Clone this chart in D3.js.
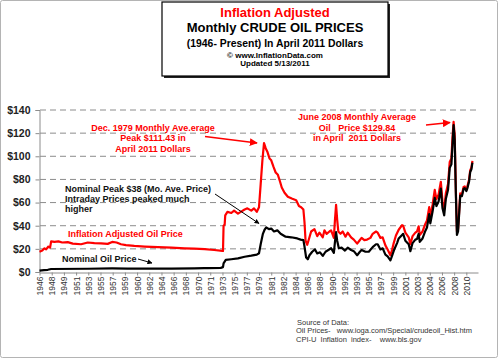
<!DOCTYPE html>
<html>
<head>
<meta charset="utf-8">
<script src="https://cdn.jsdelivr.net/npm/d3@7"></script>
<style>
  body { margin: 0; background: #fff; }
  svg { display: block; font-family: "Liberation Sans", Arial, sans-serif; }
</style>
</head>
<body>
<div id="chart"></div>
<script>
// monthly price, April 2011 dollars
const adjusted = [
  ["1946-03", 17.5], ["1946-08", 18.5], ["1946-12", 20.5], ["1947-03", 19.5], ["1947-07", 22],
  ["1947-10", 21], ["1947-12", 26.5], ["1948-06", 26], ["1949-01", 26.5], ["1949-08", 25.5],
  ["1950-06", 25.8], ["1951-03", 24.5], ["1952-06", 24], ["1953-06", 25.5], ["1954-06", 25],
  ["1955-06", 24.8], ["1956-06", 24.3], ["1957-02", 26], ["1957-10", 25.5], ["1958-06", 24],
  ["1959-03", 23.2], ["1960-06", 22.5], ["1962-01", 22], ["1964-01", 21.5], ["1966-01", 21],
  ["1968-01", 20.5], ["1969-06", 20.2], ["1971-01", 19.8], ["1972-06", 19], ["1973-09", 18.3],
  ["1973-10", 18.2], ["1973-11", 40], ["1974-01", 41], ["1974-02", 49], ["1974-06", 52],
  ["1975-01", 51], ["1975-06", 53], ["1976-01", 50.5], ["1976-06", 52], ["1977-01", 54],
  ["1977-06", 55], ["1978-01", 53], ["1978-06", 55], ["1978-11", 52], ["1979-03", 56],
  ["1979-06", 76], ["1979-09", 96], ["1979-12", 111.4], ["1980-03", 107], ["1980-06", 104],
  ["1980-10", 98], ["1981-01", 96.5], ["1981-05", 91], ["1981-09", 86], ["1982-01", 84],
  ["1982-05", 78], ["1982-08", 73], ["1983-01", 68.5], ["1983-07", 65], ["1984-02", 63.5],
  ["1984-10", 62], ["1985-03", 57], ["1985-07", 56], ["1985-11", 54], ["1986-01", 43],
  ["1986-03", 27], ["1986-06", 23.5], ["1986-10", 30], ["1987-01", 35], ["1987-07", 37],
  ["1987-12", 31], ["1988-04", 34], ["1988-10", 30], ["1989-01", 36], ["1989-05", 33],
  ["1989-10", 35], ["1990-01", 36], ["1990-06", 29.5], ["1990-08", 45], ["1990-10", 58],
  ["1990-12", 45], ["1991-02", 35], ["1991-06", 33], ["1991-10", 35], ["1992-03", 30.5],
  ["1992-07", 34], ["1993-01", 30], ["1993-06", 28], ["1993-12", 24.5], ["1994-04", 27],
  ["1994-08", 29.5], ["1995-01", 27.5], ["1995-06", 28], ["1995-12", 29.5], ["1996-04", 33],
  ["1996-10", 35], ["1997-01", 34], ["1997-06", 29.5], ["1997-10", 30], ["1998-03", 23],
  ["1998-07", 19.5], ["1998-12", 14.5], ["1999-03", 19], ["1999-06", 25], ["1999-10", 31.5],
  ["2000-03", 36.5], ["2000-09", 40.5], ["2000-11", 40], ["2001-03", 34], ["2001-09", 30],
  ["2001-12", 24], ["2002-04", 31], ["2002-09", 34], ["2002-12", 35], ["2003-03", 39.5],
  ["2003-05", 32], ["2003-10", 35], ["2004-03", 41.5], ["2004-06", 44.5], ["2004-10", 56],
  ["2004-12", 48], ["2005-04", 58], ["2005-08", 71], ["2005-11", 63], ["2006-03", 67],
  ["2006-07", 78], ["2006-10", 61], ["2007-01", 54], ["2007-04", 68], ["2007-08", 76],
  ["2007-11", 95], ["2008-02", 98], ["2008-04", 116], ["2008-06", 129.8], ["2008-08", 118],
  ["2008-10", 72], ["2008-12", 35], ["2009-02", 37], ["2009-04", 52], ["2009-06", 68],
  ["2009-09", 67], ["2009-12", 73.5], ["2010-02", 74], ["2010-05", 71], ["2010-07", 74],
  ["2010-10", 80], ["2010-12", 88], ["2011-02", 90], ["2011-04", 96]
];

// monthly price, nominal dollars
const nominal = [
  ["1946-03", 1.2], ["1946-11", 1.6], ["1947-06", 1.9], ["1947-12", 2.6], ["1953-06", 2.8],
  ["1957-02", 3.1], ["1959-06", 3.0], ["1962-01", 2.9], ["1966-01", 2.9], ["1969-06", 3.1],
  ["1970-12", 3.3], ["1971-06", 3.4], ["1973-06", 3.6], ["1973-10", 4.2], ["1973-11", 7.5],
  ["1974-01", 9], ["1974-03", 10.4], ["1975-01", 11], ["1976-01", 11.8], ["1977-01", 13.2],
  ["1978-01", 14.1], ["1978-11", 15], ["1979-03", 16.2], ["1979-06", 24], ["1979-10", 33],
  ["1980-01", 36.5], ["1980-04", 38.5], ["1980-09", 37], ["1981-01", 37.5], ["1981-06", 35],
  ["1981-12", 36], ["1982-06", 33], ["1983-03", 30.5], ["1984-01", 30], ["1984-12", 29],
  ["1985-06", 28], ["1985-11", 27.5], ["1986-01", 22], ["1986-04", 12.5], ["1986-07", 11],
  ["1986-10", 14.5], ["1987-03", 17.5], ["1987-08", 19.5], ["1987-12", 16], ["1988-05", 17],
  ["1988-10", 14], ["1989-03", 17.5], ["1989-08", 19], ["1990-01", 20.5], ["1990-06", 16.5],
  ["1990-08", 26], ["1990-10", 34.5], ["1990-12", 27], ["1991-03", 20.5], ["1991-08", 21],
  ["1992-02", 18.5], ["1992-07", 21], ["1993-01", 19], ["1993-06", 18], ["1993-12", 14.5],
  ["1994-05", 17.5], ["1994-08", 19], ["1995-03", 17.5], ["1995-09", 17.5], ["1996-04", 21.5],
  ["1996-10", 24], ["1997-01", 24], ["1997-06", 19.5], ["1997-10", 20.5], ["1998-03", 15],
  ["1998-07", 13.5], ["1998-12", 10], ["1999-03", 14], ["1999-07", 19.5], ["1999-12", 25],
  ["2000-03", 29], ["2000-09", 32], ["2000-11", 33], ["2001-03", 27], ["2001-09", 24],
  ["2001-12", 18], ["2002-04", 25], ["2002-09", 28], ["2002-12", 28.5], ["2003-03", 33],
  ["2003-05", 26], ["2003-10", 29], ["2004-03", 35.5], ["2004-06", 38.5], ["2004-10", 50],
  ["2004-12", 42], ["2005-04", 52], ["2005-08", 64], ["2005-11", 57], ["2006-03", 61],
  ["2006-07", 72], ["2006-10", 55], ["2007-01", 49], ["2007-04", 63], ["2007-08", 71],
  ["2007-11", 90], ["2008-02", 93], ["2008-04", 110], ["2008-06", 127], ["2008-08", 114],
  ["2008-10", 69], ["2008-12", 32], ["2009-02", 35], ["2009-04", 50], ["2009-06", 66],
  ["2009-09", 65.5], ["2009-12", 72], ["2010-02", 72.5], ["2010-05", 70], ["2010-07", 72.5],
  ["2010-10", 78.5], ["2010-12", 86.5], ["2011-02", 88.5], ["2011-04", 94.5]
];

const yTicks = [0, 20, 40, 60, 80, 100, 120, 140];
const tickLabels = ["1946","1948","1949","1951","1953","1955","1957","1959","1960","1962",
  "1964","1966","1968","1970","1971","1973","1975","1977","1979","1981","1982","1984",
  "1986","1988","1990","1992","1993","1995","1997","1999","2001","2003","2004","2006",
  "2008","2010"];

const width = 500, height = 362;
const parse = d3.timeParse("%Y-%m");
const start = new Date(1946, 2, 1);

const svg = d3.select("#chart").append("svg")
  .attr("width", width)
  .attr("height", height);

// outer frame
svg.append("rect")
  .attr("x", 0.5).attr("y", 0.5)
  .attr("width", 497).attr("height", 357)
  .attr("rx", 2)
  .attr("fill", "#fff")
  .attr("stroke", "#b4b4b4");

const x = d3.scaleTime()
  .domain([start, d3.timeMonth.offset(start, 791)])
  .range([39.5, 478]);

const y = d3.scaleLinear()
  .domain([0, 140])
  .range([272, 110]);

// dashed grid
svg.append("g")
  .selectAll("line")
  .data(yTicks.filter(d => d > 0))
  .enter()
  .append("line")
  .attr("x1", 40).attr("x2", 478)
  .attr("y1", d => y(d)).attr("y2", d => y(d))
  .attr("stroke", "#8c8c8c")
  .attr("stroke-width", 1)
  .attr("stroke-dasharray", "6,4");

// y axis
let yAxis = svg.append("g")
  .attr("transform", "translate(39.5,0)")
  .call(d3.axisLeft(y).tickValues(yTicks).tickSize(4).tickPadding(5).tickFormat(d => "$" + d));

yAxis.select(".domain").attr("stroke", "#8c8c8c");
yAxis.selectAll(".tick line").attr("stroke", "#8c8c8c");
yAxis.selectAll("text")
  .attr("font-size", 10.5)
  .attr("font-weight", "bold")
  .attr("fill", "#222");

// x axis
let xAxis = svg.append("g")
  .attr("transform", "translate(0,272.5)")
  .call(d3.axisBottom(x)
    .tickValues(tickLabels.map((t, i) => d3.timeMonth.offset(start, 22 * i)))
    .tickSize(3)
    .tickSizeOuter(0)
    .tickFormat((d, i) => tickLabels[i]));

xAxis.select(".domain").attr("stroke", "#8c8c8c");
xAxis.selectAll(".tick line").attr("stroke", "#8c8c8c");
xAxis.selectAll("text")
  .attr("font-size", 8.5)
  .attr("fill", "#333")
  .attr("text-anchor", "end")
  .attr("transform", "rotate(-90)")
  .attr("x", -4)
  .attr("y", 0)
  .attr("dy", "0.35em");

const line = d3.line()
  .x(d => x(parse(d[0])))
  .y(d => y(d[1]));

svg.append("path")
  .datum(adjusted)
  .attr("d", line)
  .attr("fill", "none")
  .attr("stroke", "#ff0000")
  .attr("stroke-width", 2.2)
  .attr("stroke-linejoin", "round");

svg.append("path")
  .datum(nominal)
  .attr("d", line)
  .attr("fill", "none")
  .attr("stroke", "#000")
  .attr("stroke-width", 2.2)
  .attr("stroke-linejoin", "round");

// arrow heads
const defs = svg.append("defs");
[["red", "#ff0000"], ["black", "#000"]].forEach(([id, c]) => {
  defs.append("marker")
    .attr("id", "arrow-" + id)
    .attr("viewBox", "0 0 10 10")
    .attr("refX", 9).attr("refY", 5)
    .attr("markerWidth", 5).attr("markerHeight", 5)
    .attr("orient", "auto")
    .append("path")
    .attr("d", "M0,0L10,5L0,10z")
    .attr("fill", c);
});

const arrow = (x1, y1, x2, y2, id, w) => svg.append("line")
  .attr("x1", x1).attr("y1", y1).attr("x2", x2).attr("y2", y2)
  .attr("stroke", id === "red" ? "#ff0000" : "#000")
  .attr("stroke-width", w)
  .attr("marker-end", "url(#arrow-" + id + ")");

arrow(205, 136.5, 257, 143, "red", 1.6);
arrow(426, 125, 450, 122.5, "red", 1.6);
arrow(215, 194, 259, 223.5, "black", 1);
arrow(138, 259, 152, 263, "black", 1);

const label = (lines, xPos, y0, step, color, anchor, size) => {
  let t = svg.append("text")
    .attr("font-size", size)
    .attr("font-weight", "bold")
    .attr("fill", color)
    .attr("text-anchor", anchor)
    .style("white-space", "pre");
  lines.forEach((s, i) => {
    t.append("tspan").attr("x", xPos).attr("y", y0 + i * step).text(s);
  });
};

label(["Dec. 1979 Monthly Ave.erage", "Peak $111.43 in", "April 2011 Dollars"], 153, 131, 10.3, "#ff0000", "middle", 9);
label(["June 2008 Monthly Average", "Oil   Price $129.84", "in April  2011 Dollars"], 357, 120, 10.5, "#ff0000", "middle", 9);
label(["Nominal Peak $38 (Mo. Ave. Price)", "Intraday Prices peaked much", "higher"], 65, 191.5, 10, "#111", "start", 9);
label(["Inflation Adjusted Oil Price"], 68, 236.5, 10, "#ff0000", "start", 9);
label(["Nominal Oil Price"], 62, 261.5, 10, "#111", "start", 9);

// title box
svg.append("rect")
  .attr("x", 164).attr("y", 4)
  .attr("width", 226).attr("height", 74)
  .attr("fill", "#222");
svg.append("rect")
  .attr("x", 162).attr("y", 2)
  .attr("width", 226).attr("height", 74)
  .attr("fill", "#fff")
  .attr("stroke", "#000")
  .attr("stroke-width", 1.2);

const titles = [
  ["Inflation Adjusted", 16.5, 13, "#ff0000"],
  ["Monthly CRUDE OIL PRICES", 31.5, 13, "#000"],
  ["(1946- Present) In April 2011 Dollars", 46.5, 10.4, "#000"],
  ["© www.InflationData.com", 57.5, 8, "#000"],
  ["Updated 5/13/2011", 65.5, 8, "#000"]
];

svg.append("g")
  .selectAll("text")
  .data(titles)
  .enter()
  .append("text")
  .attr("x", 275)
  .attr("y", d => d[1])
  .attr("text-anchor", "middle")
  .attr("font-size", d => d[2])
  .attr("font-weight", "bold")
  .attr("fill", d => d[3])
  .text(d => d[0]);

// source notes
const notes = [
  ["Source of Data:", 297, 324.5],
  ["Oil Prices-   www.ioga.com/Special/crudeoil_Hist.htm", 296, 333],
  ["CPI-U  Inflation  index-    www.bls.gov", 296, 341.5]
];

svg.append("g")
  .selectAll("text")
  .data(notes)
  .enter()
  .append("text")
  .attr("x", d => d[1])
  .attr("y", d => d[2])
  .attr("font-size", 7.5)
  .attr("fill", "#333")
  .style("white-space", "pre")
  .text(d => d[0]);
</script>
</body>
</html>
